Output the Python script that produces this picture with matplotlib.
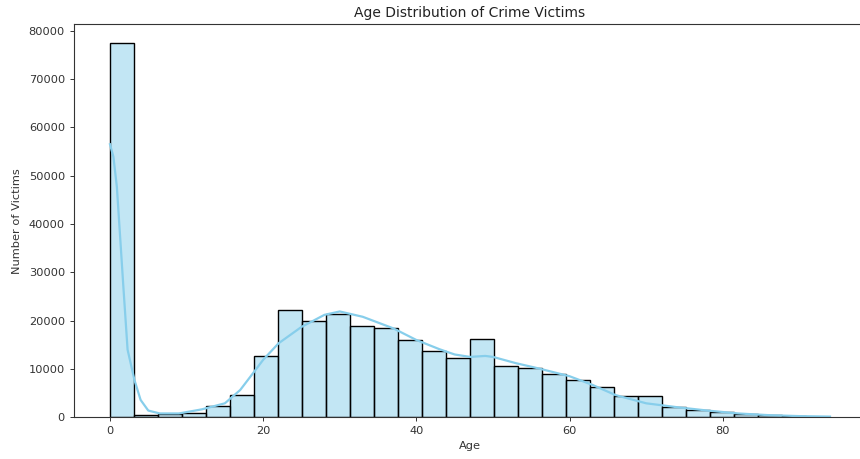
import numpy as np
import matplotlib
matplotlib.use('Agg')
import matplotlib.pyplot as plt
from matplotlib.colors import to_rgba

# histogram: 30 bins over ages 0..94
age_min = 0
age_max = 94
n_bins = 30
counts = [77500, 450, 700, 950, 2400, 4550, 12600, 22150, 20000, 21400,
          18950, 18400, 15930, 13720, 12270, 16270, 10680, 10130, 8960, 7720,
          6270, 4470, 4340, 2190, 1450, 1030, 680, 410, 270, 170]

# kde curve (scaled to counts)
kde_age = [0, 0.45, 0.9, 1.3, 1.75, 2.3, 3.2, 4, 5, 6.5, 9, 12, 15, 17, 19, 20,
           22, 25, 28, 30, 33, 35, 37, 40, 43, 45, 47, 49, 50, 53, 56, 60, 63,
           66, 70, 74, 78, 82, 86, 90, 94]
kde_val = [56500, 53900, 47700, 38000, 27000, 14000, 7700, 3600, 1400, 800, 800,
           1650, 2900, 5650, 9800, 11900, 15300, 18700, 21200, 21900, 20800,
           19600, 18400, 16000, 14100, 13000, 12500, 12700, 12500, 11200, 10100,
           8500, 6700, 4600, 2900, 2100, 1400, 800, 450, 250, 150]

edges = np.linspace(age_min, age_max, n_bins + 1)

fig = plt.figure(figsize=(8.6, 4.59), dpi=100)
ax = fig.add_axes([0.086, 0.0908, 0.921, 0.8569])

ax.bar(edges[:-1], counts, width=np.diff(edges), align='edge',
       facecolor=to_rgba('skyblue', 0.5), edgecolor='black', linewidth=1)
ax.plot(kde_age, kde_val, color='skyblue', linewidth=1.6)

ax.set_xlim(-4.7, 98.7)
ax.set_ylim(0, 81375)
ax.set_xticks([0, 20, 40, 60, 80])
ax.set_yticks(np.arange(0, 80001, 10000))
ax.tick_params(labelsize=8.2, length=3, width=0.7, colors='#333333')
for s in ax.spines.values():
    s.set_linewidth(0.8)
    s.set_color('#333333')

ax.set_title('Age Distribution of Crime Victims', fontsize=10, color='#222222', pad=5)
ax.set_xlabel('Age', fontsize=8.2, color='#333333', labelpad=3)
ax.set_ylabel('Number of Victims', fontsize=8.2, color='#333333', labelpad=5)

fig.savefig('out.png', dpi=100)
